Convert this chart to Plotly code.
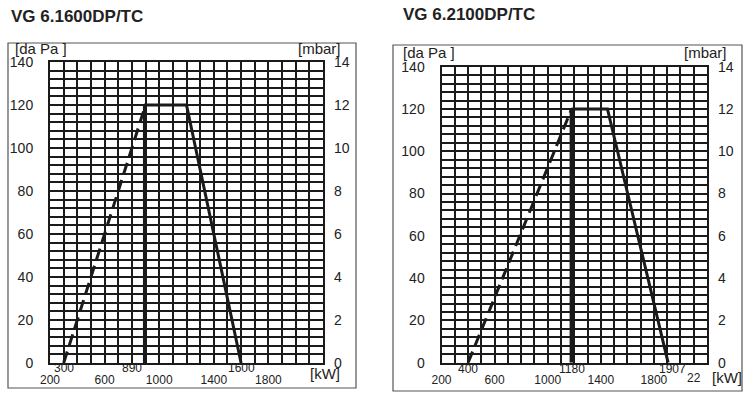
import plotly.graph_objects as go

W, H = 750, 397

# ---- data ----
titles = ["VG 6.1600DP/TC", "VG 6.2100DP/TC"]
x_range = [200, 2200]
y_range = [0, 140]
mbar_range = [0, 14]

# chart 1
c1_dash_x = [300, 890]
c1_dash_y = [0, 118]
c1_vert_x = [890, 890]
c1_vert_y = [0, 120]
c1_curve_x = [890, 1200, 1600]
c1_curve_y = [120, 120, 0]
c1_tick_labels = [200, 600, 1000, 1400, 1800]
c1_special = [300, 890, 1600]

# chart 2
c2_dash_x = [400, 1180]
c2_dash_y = [0, 120]
c2_vert_x = [1180, 1180]
c2_vert_y = [0, 120]
c2_curve_x = [1180, 1450, 1907]
c2_curve_y = [120, 120, 0]
c2_tick_labels = [200, 600, 1000, 1400, 1800]
c2_special = [400, 1180, 1907]

dapa_labels = [0, 20, 40, 60, 80, 100, 120, 140]
mbar_labels = [0, 2, 4, 6, 8, 10, 12, 14]

FONT = "Liberation Sans, Arial, Helvetica, sans-serif"
INK = "#1a1a1a"

def px_x(p):
    return p / W

def px_y(p):
    return (H - p) / H

fig = go.Figure()

dom = [
    dict(x=[px_x(50), px_x(323)], y=[px_y(363), px_y(62)]),
    dict(x=[px_x(441.5), px_x(707)], y=[px_y(362.7), px_y(66.7)]),
]

grid_x = list(range(x_range[0], x_range[1] + 1, 100))
grid_y = list(range(y_range[0], y_range[1] + 1, 4))

charts = [
    dict(dash=(c1_dash_x, c1_dash_y), vert=(c1_vert_x, c1_vert_y), curve=(c1_curve_x, c1_curve_y),
         labels=c1_tick_labels, special=c1_special, vw=2.5),
    dict(dash=(c2_dash_x, c2_dash_y), vert=(c2_vert_x, c2_vert_y), curve=(c2_curve_x, c2_curve_y),
         labels=c2_tick_labels, special=c2_special, vw=4),
]

for i, ch in enumerate(charts):
    xa = "x" if i == 0 else "x2"
    ya = "y" if i == 0 else "y3"
    yb = "y2" if i == 0 else "y4"
    fig.add_trace(go.Scatter(x=ch["dash"][0], y=ch["dash"][1], mode="lines",
                             line=dict(color=INK, width=3, dash="12px,6px"),
                             xaxis=xa, yaxis=ya, showlegend=False, hoverinfo="skip"))
    fig.add_trace(go.Scatter(x=ch["vert"][0], y=ch["vert"][1], mode="lines",
                             line=dict(color=INK, width=ch["vw"]),
                             xaxis=xa, yaxis=ya, showlegend=False, hoverinfo="skip"))
    fig.add_trace(go.Scatter(x=ch["curve"][0], y=ch["curve"][1], mode="lines",
                             line=dict(color=INK, width=3), xaxis=xa, yaxis=ya,
                             showlegend=False, hoverinfo="skip"))
    fig.add_trace(go.Scatter(x=[x_range[0]], y=[0], mode="markers", marker=dict(opacity=0),
                             xaxis=xa, yaxis=yb, showlegend=False, hoverinfo="skip"))

def xaxis_cfg(i, labels):
    d = dom[i]
    return dict(
        domain=d["x"], range=x_range, anchor="y" if i == 0 else "y3",
        tickvals=grid_x,
        ticktext=[str(v) if v in labels else "" for v in grid_x],
        showgrid=True, gridcolor=INK, gridwidth=2,
        showline=True, linecolor=INK, linewidth=2, mirror=True,
        zeroline=False, ticks="", ticklabelstandoff=5, automargin=False,
        tickfont=dict(family=FONT, size=12, color="#222"),
        fixedrange=True,
    )

def yaxis_cfg(i):
    d = dom[i]
    return dict(
        domain=d["y"], range=y_range, anchor="x" if i == 0 else "x2",
        tickvals=grid_y,
        ticktext=[str(v) if v in dapa_labels else "" for v in grid_y],
        showgrid=True, gridcolor=INK, gridwidth=2,
        showline=True, linecolor=INK, linewidth=2, mirror=True,
        zeroline=False, ticks="", ticklabelstandoff=12, automargin=False,
        tickfont=dict(family=FONT, size=14, color="#222"),
        fixedrange=True,
    )

def yaxis_right_cfg(i):
    return dict(
        range=mbar_range, overlaying="y" if i == 0 else "y3", side="right",
        anchor="x" if i == 0 else "x2",
        tickvals=mbar_labels, ticktext=[str(v) for v in mbar_labels],
        showgrid=False, zeroline=False, showline=False, ticks="", ticklabelstandoff=10,
        automargin=False,
        tickfont=dict(family=FONT, size=14, color="#222"),
        fixedrange=True,
    )

fig.update_layout(
    width=W, height=H, margin=dict(l=0, r=0, t=0, b=0, pad=0, autoexpand=False),
    paper_bgcolor="white", plot_bgcolor="white",
    xaxis=xaxis_cfg(0, c1_tick_labels),
    xaxis2=xaxis_cfg(1, c2_tick_labels),
    yaxis=yaxis_cfg(0), yaxis2=yaxis_right_cfg(0),
    yaxis3=yaxis_cfg(1), yaxis4=yaxis_right_cfg(1),
    showlegend=False,
)

frames = [(8, 43, 356, 388), (393, 45, 742, 391)]
for (x0, y0, x1, y1) in frames:
    fig.add_shape(type="rect", xref="paper", yref="paper",
                  x0=px_x(x0), x1=px_x(x1), y0=px_y(y1), y1=px_y(y0),
                  line=dict(color="#555", width=1.2), layer="below")

anns = []
anns.append(dict(text="<b>%s</b>" % titles[0], x=px_x(9), y=px_y(16), xanchor="left", yanchor="middle"))
anns.append(dict(text="<b>%s</b>" % titles[1], x=px_x(401), y=px_y(15), xanchor="left", yanchor="middle"))
for a in anns:
    a.update(xref="paper", yref="paper", showarrow=False, font=dict(family=FONT, size=17, color="#222"))

unit_font = dict(family=FONT, size=15, color="#222")
for (txt, x, y, xa) in [("[da Pa ]", 13, 49, "left"), ("[mbar]", 343, 49, "right"),
                        ("[da Pa ]", 401, 52, "left"), ("[mbar]", 729, 52, "right"),
                        ("[kW]", 325, 373, "center"), ("[kW]", 727, 377, "center")]:
    anns.append(dict(text=txt, x=px_x(x), y=px_y(y), xref="paper", yref="paper",
                     xanchor=xa, yanchor="middle", showarrow=False, font=unit_font))

sp_font = dict(family=FONT, size=12, color="#222")
for v in c1_special:
    anns.append(dict(text=str(v), x=v, xref="x", y=px_y(368), yref="paper",
                     xanchor="right" if v == 890 else "center", yanchor="middle",
                     showarrow=False, font=sp_font))
for v in c2_special:
    anns.append(dict(text=str(v), x=v, xref="x2", y=px_y(369), yref="paper",
                     xanchor="center", xshift=4 if v == 1907 else 0, yanchor="middle",
                     showarrow=False, font=sp_font))
anns.append(dict(text="22", x=2200, xref="x2", y=px_y(378), yref="paper", xanchor="center",
                 xshift=-13, yanchor="middle", showarrow=False, font=sp_font))

fig.update_layout(annotations=anns)

fig.write_html("out.html", config={"displayModeBar": False},
               post_script="document.body.style.margin='0';document.body.style.padding='0';")
